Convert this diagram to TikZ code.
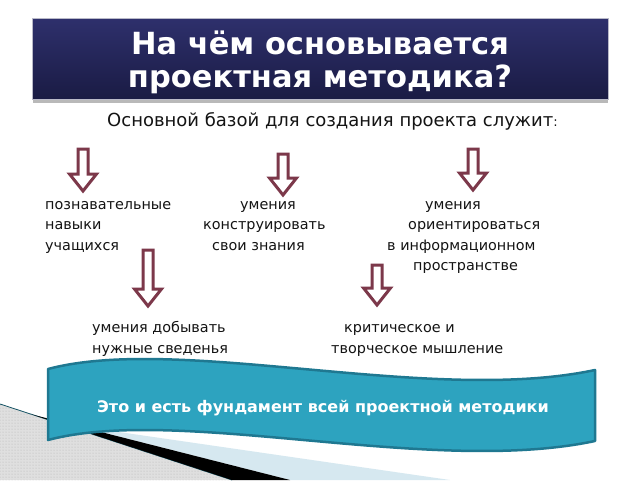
\documentclass[tikz,border=0pt]{standalone}
\usepackage{fontspec}
\setmainfont{DejaVu Sans}
\usetikzlibrary{patterns}
\definecolor{navytop}{RGB}{46,48,108}
\definecolor{navybot}{RGB}{26,27,68}
\definecolor{navyedge}{RGB}{185,185,200}
\definecolor{maroon}{RGB}{124,56,74}
\definecolor{teal}{RGB}{45,163,191}
\definecolor{tealdark}{RGB}{31,120,145}
\definecolor{lightblue}{RGB}{214,232,240}
\definecolor{txt}{RGB}{20,20,20}
\tikzset{
  arrowline/.style={draw=maroon,fill=white,line width=3pt,line join=miter},
  pics/downarr/.style={code={
    \draw[arrowline] (-5,0) -- (5,0) -- (5,#1-17) -- (13.5,#1-17) -- (0,#1)
      -- (-13.5,#1-17) -- (-5,#1-17) -- cycle;}},
  body/.style={anchor=base west,inner sep=0pt,text=txt,font=\fontsize{14.4}{20}\selectfont},
  titletext/.style={anchor=base,inner sep=0pt,text=white,font=\fontsize{30.5}{34}\bfseries\selectfont},
}
\begin{document}
\begin{tikzpicture}[x=1pt,y=-1pt]
\useasboundingbox (0,0) rectangle (640,480);
\fill[white] (0,0) rectangle (640,480);

% bottom-left decoration
\fill[gray!25] (0,404) -- (232,480) -- (0,480) -- cycle;
\fill[pattern=dots,pattern color=gray!60] (0,404) -- (232,480) -- (0,480) -- cycle;
\draw[tealdark!70!black,line width=0.8pt] (0,404) -- (232,480);
\fill[lightblue] (77.5,426) -- (450,480) -- (290,480) -- cycle;
\fill[black] (32,414.5) -- (290,480) -- (232,480) -- cycle;

% title bar
\fill[gray!55] (33,99) rectangle (608,103);
\shade[top color=navytop,bottom color=navybot,draw=navyedge,line width=0.6pt]
  (32,18) rectangle (608,99);
\node[titletext] (t1) at (320,54) {На чём основывается};
\node[titletext] (t2) at (320,87) {проектная методика?};

% subtitle
\node[body,font=\fontsize{18}{22}\selectfont] (sub) at (107,126)
  {Основной базой для создания проекта служит{\fontsize{13}{16}\selectfont:}};

% arrows
\pic at (83,149) {downarr=42};
\pic at (283,154) {downarr=41};
\pic at (473,149) {downarr=41};
\pic at (148,250) {downarr=56};
\pic at (377,265) {downarr=40};

% column texts
\node[body] (a1) at (45,209) {познавательные};
\node[body] (a2) at (45,229.5) {навыки};
\node[body] (a3) at (45,250) {учащихся};

\node[body] (b1) at (240,209) {умения};
\node[body] (b2) at (203,229.5) {конструировать};
\node[body] (b3) at (212,250) {свои знания};

\node[body] (c1) at (425,209) {умения};
\node[body] (c2) at (408,229.5) {ориентироваться};
\node[body] (c3) at (387,250) {в информационном};
\node[body] (c4) at (413,270.5) {пространстве};

\node[body] (d1) at (92,332) {умения добывать};
\node[body] (d2) at (92,353) {нужные сведенья};

\node[body] (e1) at (344,332) {критическое и};
\node[body] (e2) at (331,353) {творческое мышление};

% banner
\draw[fill=teal,draw=tealdark,line width=2.5pt,line join=round]
  (48,369) .. controls (180,334) and (430,405) .. (595,370)
  -- (595,441) .. controls (430,476) and (180,405) .. (48,440) -- cycle;
\node[anchor=base,inner sep=0pt,text=white,font=\fontsize{16}{20}\bfseries\selectfont]
  (ban) at (323,412) {Это и есть фундамент всей проектной методики};
\end{tikzpicture}
\end{document}
